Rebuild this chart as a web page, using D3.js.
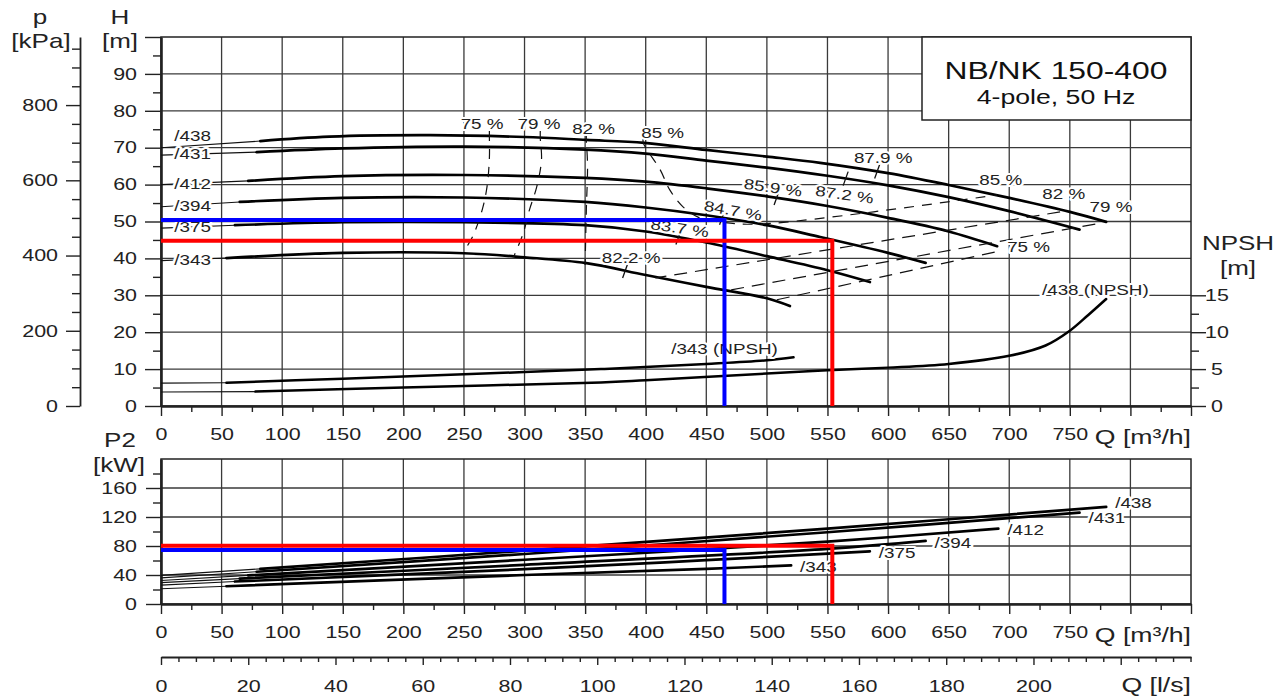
<!DOCTYPE html>
<html>
<head>
<meta charset="utf-8">
<script src="https://cdn.jsdelivr.net/npm/d3@7"></script>
<style>
  body { margin: 0; background: #fff; }
  svg { font-family: 'Liberation Sans', Arial, sans-serif; }
</style>
</head>
<body>
<svg id="chart" width="1284" height="698"></svg>
<script>
// データ ---------------------------------------------------------------------------------------
const impellers = ['/438', '/431', '/412', '/394', '/375', '/343'];
const thickStartQ = [82, 79, 72, 65, 61, 54];

// H [m] vs Q [m3/h]
const head438 = [[0, 70], [82, 71.8], [139, 73], [222, 73.4], [300, 72.9], [351, 72.1], [399, 71.3], [450, 69.4], [500, 67.6], [544, 65.9], [600, 63.1], [650, 59.9], [700, 56.4], [750, 52.6], [780, 49.9]];
const head431 = [[0, 68], [79, 68.8], [150, 69.8], [250, 70.3], [350, 69.5], [400, 68.4], [450, 66.5], [500, 64.6], [550, 62.4], [600, 59.8], [650, 56.6], [700, 52.8], [758, 47.8]];
const head412 = [[0, 60], [72, 61], [150, 62.3], [250, 62.6], [350, 61.8], [400, 60.8], [450, 59], [500, 56.8], [550, 54.2], [600, 51], [650, 47.3], [690, 43.3]];
const head394 = [[0, 54], [65, 55.3], [150, 56.4], [250, 56.5], [350, 55.3], [400, 53.8], [450, 51.7], [500, 49], [544, 45.8], [600, 41.5], [631, 38.8]];
const head375 = [[0, 48.2], [61, 49], [150, 49.8], [250, 49.8], [350, 49], [400, 47.3], [450, 44.3], [500, 40.6], [550, 36.8], [585, 33.6]];
const head343 = [[0, 39.4], [54, 40.1], [150, 41.5], [250, 41.4], [300, 40.3], [351, 38.7], [400, 35.5], [450, 32.3], [500, 29.2], [519, 27.1]];

// P2 [kW] vs Q
const p2_438 = [[0, 39.5], [82, 48.5], [300, 73.5], [550, 104], [780, 134]];
const p2_431 = [[0, 36], [79, 44.5], [300, 69], [550, 99], [758, 126]];
const p2_412 = [[0, 32.5], [72, 39.5], [300, 61], [550, 86], [691, 104]];
const p2_394 = [[0, 29.5], [65, 35], [300, 54], [550, 76], [631, 87]];
const p2_375 = [[0, 26], [61, 31], [300, 48], [450, 60.5], [585, 72.7]];
const p2_343 = [[0, 21], [54, 24.5], [300, 40], [450, 48.5], [520, 53.3]];

// NPSH [m] vs Q
const npsh438 = [[0, 1.9], [78, 1.95], [200, 2.5], [363, 3.2], [400, 3.5], [500, 4.4], [550, 4.85], [600, 5.2], [650, 5.7], [700, 6.8], [730, 8.2], [750, 10.2], [765, 12.3], [780, 14.5]];
const npsh343 = [[0, 3.1], [54, 3.15], [150, 3.7], [250, 4.3], [363, 5.0], [450, 5.7], [500, 6.2], [522, 6.6]];

// 効率の等高線 (Q, H)
const eff75Left = [[271, 74.5], [271, 72.9], [271, 67.2], [269, 59.3], [265, 53.1], [257, 45.8], [249, 41.5]];
const eff79Left = [[313, 74.5], [313, 72.6], [314, 66.7], [310, 59.3], [304, 53.1], [299, 46.9], [291, 40.4]];
const eff82Left = [[351, 74], [351, 72.1], [352, 65.3], [351, 53.1], [350, 38.2]];
const eff85 = [[398, 72.5], [398, 71.3], [412, 64], [420, 58.5], [431, 53.9], [445, 50.9], [461, 49.9], [494, 49.3], [690, 57.2]];
const eff82Right = [[742, 52.6], [408, 34.7]];
const eff79Right = [[771, 49.3], [469, 31.4]];
const eff75Right = [[688, 41.7], [507, 28.7]];
const isoLabels = ['75 %', '79 %', '82 %', '85 %', '85 %', '82 %', '79 %', '75 %'];
const isoLabelQ = [265, 312, 357, 414, 693, 745, 784, 716];
const isoLabelH = [76.4, 76.4, 75.1, 74.0, 61.2, 57.5, 53.9, 43.1];

// 最高効率点
const bepLabels = ['82.2 %', '83.7 %', '84.7 %', '85.9 %', '87.2 %', '87.9 %'];
const bepCurve = ['/343', '/375', '/394', '/412', '/431', '/438'];
const bepQ = [383, 427, 463, 508, 565, 591];
const bepLabelQ = [388, 428, 472, 505, 564, 596];
const bepLabelH = [40.1, 48.1, 52.9, 59.1, 57.2, 67.2];

// 運転点
const dutyQ = [465, 554];
const dutyH = [50.4, 44.8];
const dutyP2 = [74.5, 80.5];

// 軸目盛
const qLabels = [0, 50, 100, 150, 200, 250, 300, 350, 400, 450, 500, 550, 600, 650, 700, 750];
const hLabels = [0, 10, 20, 30, 40, 50, 60, 70, 80, 90];
const pLabels = [0, 200, 400, 600, 800];
const npshLabels = [0, 5, 10, 15];
const p2Labels = [0, 40, 80, 120, 160];
const lsLabels = [0, 20, 40, 60, 80, 100, 120, 140, 160, 180, 200];

const heads = [head438, head431, head412, head394, head375, head343];
const powers = [p2_438, p2_431, p2_412, p2_394, p2_375, p2_343];

// スケール -------------------------------------------------------------------------------------
const svg = d3.select('#chart');
const ink = '#222';
const gridColor = '#3a3a3a';
const stretchX = 1.3; // 元画像の文字は横に引き伸ばされている
const x = d3.scaleLinear().domain([0, 850]).range([161, 1191]);
const yH = d3.scaleLinear().domain([0, 100]).range([406, 37]);
const yP = d3.scaleLinear().domain([0, 100 * 9.81]).range([406, 37]);
const yN = d3.scaleLinear().domain([0, 50]).range([406, 37]);
const yP2 = d3.scaleLinear().domain([0, 200]).range([604, 459]);
const xLs = d3.scaleLinear().domain([0, 850 / 3.6]).range([161, 1191]);

const interp = (pts, q) => {
  for (let i = 1; i < pts.length; i++) {
    if (q <= pts[i][0]) {
      const t = (q - pts[i - 1][0]) / (pts[i][0] - pts[i - 1][0]);
      return pts[i - 1][1] + t * (pts[i][1] - pts[i - 1][1]);
    }
  }
  return pts[pts.length - 1][1];
};

const halo = sel => sel.attr('stroke', '#fff').attr('stroke-width', 4)
  .attr('stroke-linejoin', 'round').attr('paint-order', 'stroke');

// グリッド ---------------------------------------------------------------------------------------
const grid = svg.append('g').attr('stroke', gridColor).attr('stroke-width', 1.3);
grid.selectAll('.vt').data(d3.range(50, 850, 50)).enter().append('line')
  .attr('x1', d => x(d)).attr('x2', d => x(d)).attr('y1', yH(100)).attr('y2', yH(0));
grid.selectAll('.ht').data(d3.range(10, 100, 10)).enter().append('line')
  .attr('x1', x(0)).attr('x2', x(850)).attr('y1', d => yH(d)).attr('y2', d => yH(d));
grid.selectAll('.vb').data(d3.range(50, 850, 50)).enter().append('line')
  .attr('x1', d => x(d)).attr('x2', d => x(d)).attr('y1', yP2(200)).attr('y2', yP2(0));
grid.selectAll('.hb').data([40, 80, 120, 160]).enter().append('line')
  .attr('x1', x(0)).attr('x2', x(850)).attr('y1', d => yP2(d)).attr('y2', d => yP2(d));

// 枠
svg.append('rect').attr('x', x(0)).attr('y', yH(100)).attr('width', x(850) - x(0)).attr('height', yH(0) - yH(100))
  .attr('fill', 'none').attr('stroke', ink).attr('stroke-width', 1.5);
svg.append('rect').attr('x', x(0)).attr('y', yP2(200)).attr('width', x(850) - x(0)).attr('height', yP2(0) - yP2(200))
  .attr('fill', 'none').attr('stroke', ink).attr('stroke-width', 1.5);

// タイトル枠
svg.append('rect').attr('x', 922).attr('y', yH(100)).attr('width', x(850) - 922).attr('height', 83)
  .attr('fill', '#fff').attr('stroke', ink).attr('stroke-width', 1.5);
svg.append('text').attr('x', 1056).attr('y', 79).attr('text-anchor', 'middle')
  .attr('font-size', 24.5).attr('fill', '#111').text('NB/NK 150-400');
svg.append('text').attr('x', 1056).attr('y', 104).attr('text-anchor', 'middle')
  .attr('font-size', 20.5).attr('fill', '#111').text('4-pole, 50 Hz');

// 軸 -------------------------------------------------------------------------------------------
const minorLen = (g, sel, len, attr) => g.selectAll('.tick').filter(sel).select('line').attr(attr, len);
const styleAxis = g => {
  g.selectAll('.tick line').attr('stroke', ink).attr('stroke-width', 1.4);
  g.selectAll('.tick text').attr('font-size', 16.5).attr('fill', ink);
  g.select('.domain').attr('stroke', ink).attr('stroke-width', 2.6);
};

// H 軸
const hAxis = svg.append('g').attr('transform', `translate(${x(0)},0)`)
  .call(d3.axisLeft(yH).tickValues(d3.range(0, 101, 5)).tickSize(16).tickSizeOuter(0).tickPadding(8)
    .tickFormat(d => hLabels.includes(d) ? d : ''));
styleAxis(hAxis);
minorLen(hAxis, d => d % 10 !== 0, -8, 'x2');

// p 軸
const pAxis = svg.append('g').attr('transform', 'translate(80,0)')
  .call(d3.axisLeft(yP).tickValues(d3.range(0, 951, 50)).tickSize(14).tickSizeOuter(0).tickPadding(8)
    .tickFormat(d => pLabels.includes(d) ? d : ''));
styleAxis(pAxis);
pAxis.select('.domain').attr('stroke-width', 1.8);
minorLen(pAxis, d => d % 200 !== 0, -8, 'x2');

// NPSH 軸
const nAxis = svg.append('g').attr('transform', `translate(${x(850)},0)`)
  .call(d3.axisRight(yN).tickValues(d3.range(0, 15.1, 2.5)).tickSize(15).tickSizeOuter(0).tickPadding(12)
    .tickFormat(d => npshLabels.includes(d) ? d : ''));
styleAxis(nAxis);
nAxis.select('.domain').remove();
nAxis.selectAll('.tick text').attr('text-anchor', 'middle').attr('x', 26);
minorLen(nAxis, d => d % 5 !== 0, 8, 'x2');

// Q 軸 (上下)
[yH(0), yP2(0)].forEach(y0 => {
  const ax = svg.append('g').attr('transform', `translate(0,${y0})`)
    .call(d3.axisBottom(x).tickValues(d3.range(0, 851, 25)).tickSize(10).tickSizeOuter(0).tickPadding(12)
      .tickFormat(d => qLabels.includes(d) ? d : ''));
  styleAxis(ax);
  minorLen(ax, d => d % 50 !== 0, 6, 'y2');
  svg.append('text').attr('x', x(850)).attr('y', y0 + 38).attr('text-anchor', 'end')
    .attr('font-size', 20.5).attr('fill', ink).text('Q [m³/h]');
});

// P2 軸
const p2Axis = svg.append('g').attr('transform', `translate(${x(0)},0)`)
  .call(d3.axisLeft(yP2).tickValues(d3.range(0, 181, 20)).tickSize(15).tickSizeOuter(0).tickPadding(9)
    .tickFormat(d => p2Labels.includes(d) ? d : ''));
styleAxis(p2Axis);
minorLen(p2Axis, d => d % 40 !== 0, -8, 'x2');

// l/s 軸
const lsAxis = svg.append('g').attr('transform', 'translate(0,657)')
  .call(d3.axisBottom(xLs).tickValues(d3.range(0, 237, 4)).tickSize(8).tickSizeOuter(0).tickPadding(15)
    .tickFormat(d => lsLabels.includes(d) ? d : ''));
styleAxis(lsAxis);
lsAxis.select('.domain').attr('stroke-width', 2);
minorLen(lsAxis, d => d % 20 !== 0, 5, 'y2');
svg.append('text').attr('x', x(850)).attr('y', 692).attr('text-anchor', 'end')
  .attr('font-size', 20.5).attr('fill', ink).text('Q [l/s]');

// 軸名
const axisTitle = (tx, ty, t) => svg.append('text').attr('x', tx).attr('y', ty).attr('text-anchor', 'middle')
  .attr('font-size', 20).attr('fill', ink).text(t);
axisTitle(40, 24, 'p');
axisTitle(41, 48, '[kPa]');
axisTitle(120, 24, 'H');
axisTitle(120, 48, '[m]');
axisTitle(1238, 250, 'NPSH');
axisTitle(1238, 275, '[m]');
axisTitle(120, 447, 'P2');
axisTitle(119, 472, '[kW]');

// 曲線 -----------------------------------------------------------------------------------------
const curveLine = (ys) => d3.line().x(d => x(d[0])).y(d => ys(d[1])).curve(d3.curveCatmullRom.alpha(0.5));
const straight = (ys) => d3.line().x(d => x(d[0])).y(d => ys(d[1]));

const drawCurve = (pts, qs, ys, w) => {
  svg.append('path').attr('d', straight(ys)(pts.slice(0, 2))).attr('fill', 'none')
    .attr('stroke', '#111').attr('stroke-width', 1.1);
  svg.append('path').attr('d', curveLine(ys)(pts.filter(d => d[0] >= qs))).attr('fill', 'none')
    .attr('stroke', '#000').attr('stroke-width', w).attr('stroke-linecap', 'round');
};
heads.forEach((pts, i) => drawCurve(pts, thickStartQ[i], yH, 2.7));
powers.forEach((pts, i) => drawCurve(pts, thickStartQ[i], yP2, 2.7));
drawCurve(npsh438, 78, yN, 2.5);
drawCurve(npsh343, 54, yN, 2.5);

// 効率線 (破線)
[eff75Left, eff79Left, eff82Left, eff85, eff82Right, eff79Right, eff75Right].forEach((pts, i) => {
  svg.append('path').attr('d', (i < 4 ? curveLine(yH) : straight(yH))(pts)).attr('fill', 'none')
    .attr('stroke', '#111').attr('stroke-width', 1.2).attr('stroke-dasharray', i < 4 ? '10,8' : '13,8');
});

// 最高効率点の目盛
bepQ.forEach((q, i) => {
  const px = x(q);
  const py = yH(interp(heads[impellers.indexOf(bepCurve[i])], q));
  svg.append('line').attr('x1', px - 2.5).attr('y1', py + 7).attr('x2', px + 2.5).attr('y2', py - 7)
    .attr('stroke', '#111').attr('stroke-width', 1.3);
});

// ラベル -----------------------------------------------------------------------------------------
const labelText = (tx, ty, t, size, anchor) => svg.append('text').attr('x', tx).attr('y', ty)
  .attr('text-anchor', anchor || 'middle').attr('dominant-baseline', 'central')
  .attr('font-size', size).attr('fill', ink).text(t).call(halo);

isoLabels.forEach((t, i) => labelText(x(isoLabelQ[i]), yH(isoLabelH[i]), t, 14.5));
const bepAngle = [0, 8, 10, 8, 8, 0];
bepLabels.forEach((t, i) => labelText(x(bepLabelQ[i]), yH(bepLabelH[i]), t, 14.5)
  .attr('data-rot', bepAngle[i]));

// 羽根車径 (左側)
impellers.forEach((t, i) => {
  const up = i === 0 ? -11 : 0;
  labelText(x(11), yH(interp(heads[i], 11)) + up, t, 14.5, 'start');
});
// 羽根車径 (P2)
impellers.forEach((t, i) => {
  const end = powers[i][powers[i].length - 1];
  const shift = i === 0 ? -4 : (i === 1 ? 6 : 2);
  labelText(x(end[0]) + 9, yP2(end[1]) + shift, t, 14.5, 'start');
});
labelText(x(421), yN(7.7), '/343 (NPSH)', 14.5, 'start');
labelText(x(727), yN(15.7), '/438 (NPSH)', 14.5, 'start');

// 運転点 -----------------------------------------------------------------------------------------
const dutyColors = ['#0000ff', '#ff0000'];
dutyQ.forEach((q, i) => {
  svg.append('path').attr('d', straight(yH)([[0, dutyH[i]], [q, dutyH[i]], [q, 0]]))
    .attr('fill', 'none').attr('stroke', dutyColors[i]).attr('stroke-width', 4);
  svg.append('path').attr('d', straight(yP2)([[0, dutyP2[i]], [q, dutyP2[i]], [q, 0]]))
    .attr('fill', 'none').attr('stroke', dutyColors[i]).attr('stroke-width', 4);
});

// 文字を横に引き伸ばす --------------------------------------------------------------------------
svg.selectAll('text').each(function () {
  const t = d3.select(this);
  const tx = +t.attr('x') || 0;
  const ty = +t.attr('y') || 0;
  const rot = t.attr('data-rot');
  t.attr('x', tx / stretchX)
    .attr('transform', (rot ? `rotate(${rot},${tx},${ty}) ` : '') + `scale(${stretchX},1)`);
});
</script>
</body>
</html>
